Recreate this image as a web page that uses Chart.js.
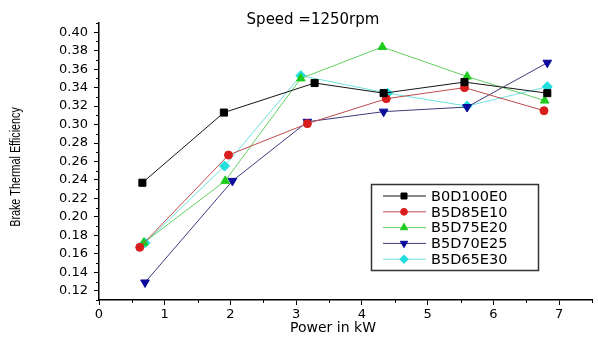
<!DOCTYPE html>
<html>
<head>
<meta charset="utf-8">
<script src="https://cdn.jsdelivr.net/npm/chart.js@4.4.0/dist/chart.umd.min.js"></script>
<style>
  html, body { margin: 0; padding: 0; background: #fff; }
  #wrap { width: 598px; height: 340px; position: relative; }
</style>
</head>
<body>
<div id="wrap"><canvas id="bteChart"></canvas></div>
<script>
// data (power in kW, brake thermal efficiency)
var seriesNames = ["B0D100E0", "B5D85E10", "B5D75E20", "B5D70E25", "B5D65E30"];

var powerB0D100E0 = [0.66, 1.90, 3.28, 4.33, 5.56, 6.82];
var bteB0D100E0   = [0.237, 0.313, 0.345, 0.334, 0.346, 0.334];

var powerB5D85E10 = [0.62, 1.97, 3.17, 4.37, 5.56, 6.77];
var bteB5D85E10   = [0.167, 0.267, 0.301, 0.328, 0.340, 0.315];

var powerB5D75E20 = [0.68, 1.92, 3.07, 4.31, 5.60, 6.78];
var bteB5D75E20   = [0.172, 0.239, 0.350, 0.384, 0.352, 0.326];

var powerB5D70E25 = [0.70, 2.03, 3.17, 4.33, 5.60, 6.82];
var bteB5D70E25   = [0.129, 0.239, 0.303, 0.314, 0.319, 0.367];

var powerB5D65E30 = [0.70, 1.91, 3.07, 4.39, 5.60, 6.82];
var bteB5D65E30   = [0.172, 0.255, 0.353, 0.334, 0.320, 0.341];

var xTicks = [0, 1, 2, 3, 4, 5, 6, 7];
var yTicks = [0.12, 0.14, 0.16, 0.18, 0.20, 0.22, 0.24, 0.26, 0.28, 0.30, 0.32, 0.34, 0.36, 0.38, 0.40];

var chartTitle = "Speed =1250rpm";
var xTitle = "Power in kW";
var yTitle = "Brake Thermal Efficiency";

function toPoints(xs, ys) {
  return xs.map(function(x, i) { return { x: x, y: ys[i] }; });
}

var ctx = document.getElementById("bteChart");

var datasets = [
  {
    label: seriesNames[0],
    data: toPoints(powerB0D100E0, bteB0D100E0),
    borderColor: "#151515",
    pointBackgroundColor: "#000000",
    pointBorderColor: "#000000",
    pointStyle: "rect",
    pointRadius: 5
  },
  {
    label: seriesNames[1],
    data: toPoints(powerB5D85E10, bteB5D85E10),
    borderColor: "#bf4a4a",
    pointBackgroundColor: "#d91c1c",
    pointBorderColor: "#d91c1c",
    pointStyle: "circle",
    pointRadius: 4
  },
  {
    label: seriesNames[2],
    data: toPoints(powerB5D75E20, bteB5D75E20),
    borderColor: "#62cf62",
    pointBackgroundColor: "#1ecc1e",
    pointBorderColor: "#1ecc1e",
    pointStyle: "triangle",
    pointRadius: 5
  },
  {
    label: seriesNames[3],
    data: toPoints(powerB5D70E25, bteB5D70E25),
    borderColor: "#3b3b7c",
    pointBackgroundColor: "#0b0b9c",
    pointBorderColor: "#0b0b9c",
    pointStyle: "triangle",
    pointRotation: 180,
    pointRadius: 5
  },
  {
    label: seriesNames[4],
    data: toPoints(powerB5D65E30, bteB5D65E30),
    borderColor: "#6ee0e0",
    pointBackgroundColor: "#22dede",
    pointBorderColor: "#22dede",
    pointStyle: "rectRot",
    pointRadius: 5
  }
];

datasets.forEach(function(ds) {
  ds.showLine = true;
  ds.borderWidth = 1;
  ds.pointBorderWidth = 1;
  ds.pointHoverRadius = ds.pointRadius;
  ds.tension = 0;
});

// minor ticks, titles and the boxed legend
var extrasPlugin = {
  id: "extras",
  afterDraw: function(chart) {
    var c = chart.ctx;
    var xs = chart.scales.x;
    var ys = chart.scales.y;
    var area = chart.chartArea;
    c.save();
    c.strokeStyle = "#000";
    c.lineWidth = 1;
    c.beginPath();
    for (var v = 11; v <= 41; v++) {
      if (v % 2 === 0) continue;
      var py = Math.round(ys.getPixelForValue(v / 100)) + 0.5;
      c.moveTo(area.left - 3, py);
      c.lineTo(area.left, py);
    }
    for (var h = 1; h <= 15; h += 2) {
      var px = Math.round(xs.getPixelForValue(h / 2)) + 0.5;
      c.moveTo(px, area.bottom);
      c.lineTo(px, area.bottom + 3);
    }
    c.stroke();

    c.fillStyle = "#000";
    c.textAlign = "center";
    c.textBaseline = "middle";
    c.font = '15px "DejaVu Sans"';
    c.fillText(chartTitle, 313, 20);
    c.font = '14px "DejaVu Sans"';
    c.fillText(xTitle, 333, 328);

    // y title, a bit condensed like the original
    c.save();
    c.translate(16, 167);
    c.rotate(-Math.PI / 2);
    c.scale(0.77, 1);
    c.font = '14px "Liberation Sans"';
    c.fillText(yTitle, 0, 0);
    c.restore();

    // legend
    c.strokeStyle = "#333";
    c.lineWidth = 1.5;
    c.strokeRect(371.5, 184.5, 167, 86);
    chart.data.datasets.forEach(function(ds, i) {
      var y = 196 + i * 15.8;
      c.strokeStyle = ds.borderColor;
      c.lineWidth = 1;
      c.beginPath();
      c.moveTo(383, y);
      c.lineTo(426, y);
      c.stroke();
      c.fillStyle = ds.pointBackgroundColor;
      c.strokeStyle = ds.pointBorderColor;
      Chart.helpers.drawPoint(c, {
        pointStyle: ds.pointStyle,
        rotation: ds.pointRotation || 0,
        radius: ds.pointRadius * 0.85,
        borderWidth: 1
      }, 404, y);
      c.fillStyle = "#000";
      c.textAlign = "left";
      c.font = '14.5px "DejaVu Sans"';
      c.fillText(ds.label, 431, y + 1);
    });
    c.restore();
  }
};

var chart = new Chart(ctx, {
  type: "scatter",
  data: { datasets: datasets },
  options: {
    responsive: true,
    maintainAspectRatio: false,
    animation: false,
    layout: { padding: { top: 23, right: 0, left: 0, bottom: 0 } },
    plugins: {
      legend: { display: false },
      tooltip: { enabled: false }
    },
    scales: {
      x: {
        type: "linear",
        min: 0,
        max: 7.5,
        afterBuildTicks: function(s) { s.ticks = xTicks.map(function(v) { return { value: v }; }); },
        afterFit: function(s) { s.height = 40; },
        border: { display: true, color: "#000", width: 1.5 },
        grid: { drawOnChartArea: false, drawTicks: true, tickLength: 5, tickColor: "#000", tickWidth: 1 },
        ticks: {
          autoSkip: false,
          maxRotation: 0,
          padding: 2,
          color: "#000",
          font: { family: "DejaVu Sans", size: 13 }
        }
      },
      y: {
        min: 0.11,
        max: 0.41,
        afterBuildTicks: function(s) { s.ticks = yTicks.map(function(v) { return { value: v }; }); },
        afterFit: function(s) { s.width = 99; },
        border: { display: true, color: "#000", width: 1.5 },
        grid: { drawOnChartArea: false, drawTicks: true, tickLength: 5, tickColor: "#000", tickWidth: 1 },
        ticks: {
          padding: 6,
          color: "#000",
          font: { family: "DejaVu Sans", size: 13 },
          callback: function(v) { return v.toFixed(2); }
        }
      }
    }
  },
  plugins: [extrasPlugin]
});
</script>
</body>
</html>
